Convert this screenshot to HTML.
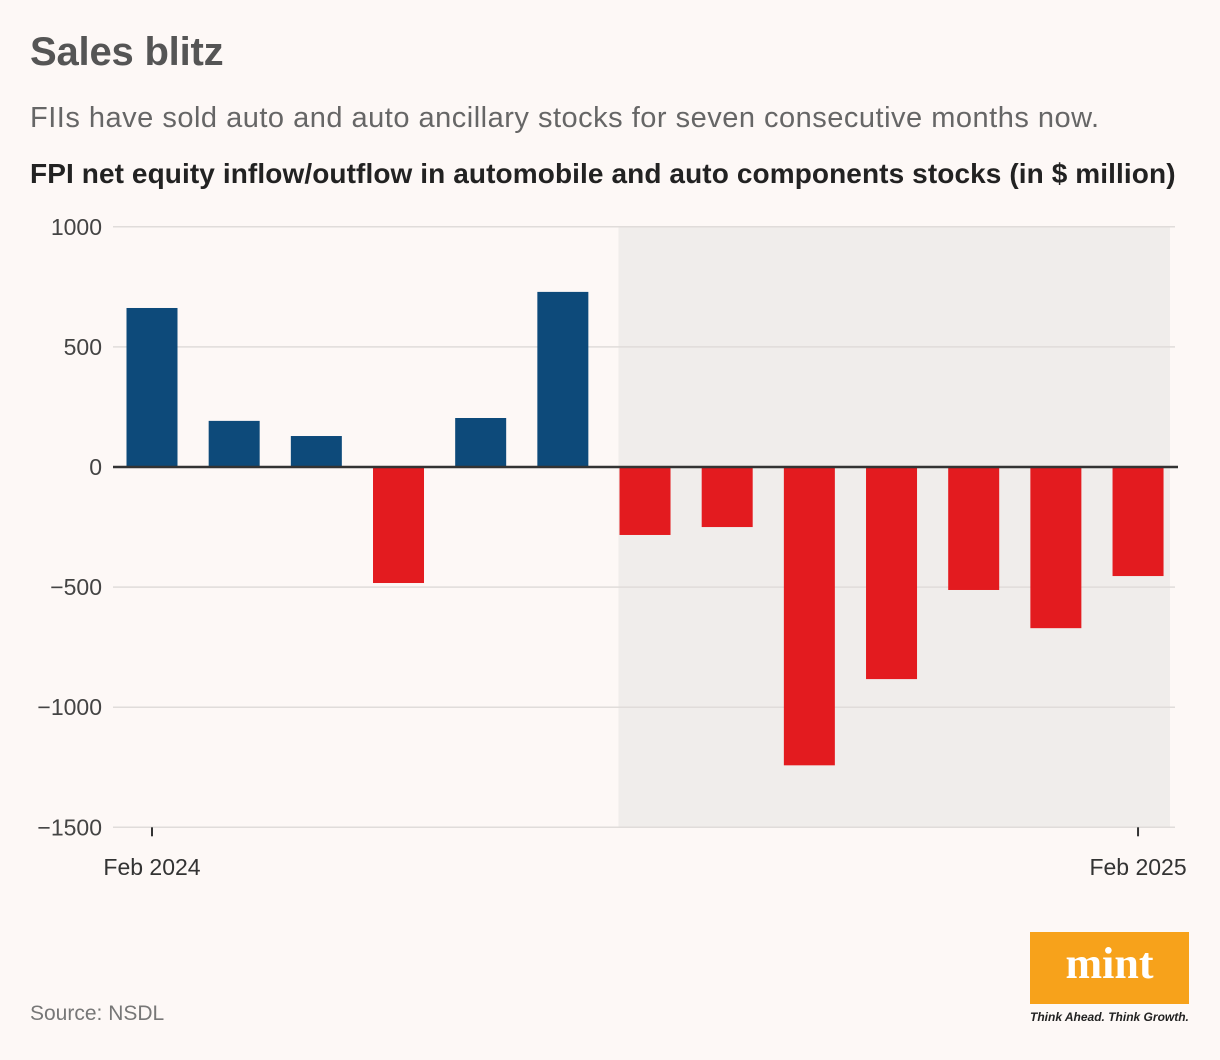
<!DOCTYPE html>
<html><head><meta charset="utf-8"><style>
body{margin:0;background:#fdf8f6;font-family:"Liberation Sans",sans-serif;}
#wrap{position:relative;width:1220px;height:1060px;overflow:hidden;}
.t{position:absolute;white-space:nowrap;}
</style></head><body>
<div id="wrap">
<div class="t" style="left:30px;top:30px;font-size:40px;font-weight:bold;color:#555;letter-spacing:-0.2px">Sales blitz</div>
<div class="t" style="left:30px;top:102px;font-size:29px;color:#666;letter-spacing:0.5px">FIIs have sold auto and auto ancillary stocks for seven consecutive months now.</div>
<div class="t" style="left:30px;top:158px;font-size:28px;font-weight:bold;color:#222;letter-spacing:0.1px">FPI net equity inflow/outflow in automobile and auto components stocks (in $ million)</div>
<svg id="chart" width="1220" height="900" style="position:absolute;left:0;top:0"></svg>
<div class="t" style="left:30px;top:1002px;font-size:21px;color:#777">Source: NSDL</div>
<div class="t" style="left:1030px;top:932px;width:159px;height:72px;background:#f7a21b;color:#fff;font-family:'Liberation Serif',serif;font-weight:bold;font-size:44px;text-align:center;line-height:64px">mint</div>
<div class="t" style="left:1030px;top:1010px;font-size:12px;font-style:italic;font-weight:bold;color:#222">Think Ahead. Think Growth.</div>
</div>
<script>
const categories=["Feb 2024","Mar 2024","Apr 2024","May 2024","Jun 2024","Jul 2024","Aug 2024","Sep 2024","Oct 2024","Nov 2024","Dec 2024","Jan 2025","Feb 2025"];
const values=[662,192,129,-483,204,729,-283,-250,-1242,-883,-512,-671,-454];
const yTicks=[1000,500,0,-500,-1000,-1500];
const yTickLabels=["1000","500","0","\u2212500","\u22121000","\u22121500"];
const xLabelIdx=[0,12];
const shadeFrom=6;
const NS="http://www.w3.org/2000/svg";
const svg=document.getElementById('chart');
const y=v=>467-v*0.2402;
const x=i=>152+i*82.17;
const bw=51;
function mk(t,a){const e=document.createElementNS(NS,t);for(const k in a)e.setAttribute(k,a[k]);svg.appendChild(e);return e;}
const sx=x(shadeFrom)-bw/2-1;
let sh=mk('rect',{x:sx,y:y(1000),width:1170-sx,height:y(-1500)-y(1000),fill:'#f0edeb'});


yTicks.forEach((t,i)=>{
 if(t!==0){const g=mk('line',{x1:113,x2:1175,y1:y(t),y2:y(t),stroke:'#e0dcda','stroke-width':1.5});
 
 }
 const l=mk('text',{x:102,y:y(t)+8,'text-anchor':'end','font-size':23,fill:'#444','font-family':'Liberation Sans,sans-serif'});
 l.textContent=yTickLabels[i];
 
 
});
values.forEach((v,i)=>{
 const r=mk('rect',{x:x(i)-bw/2,y:Math.min(y(v),y(0)),width:bw,height:Math.abs(y(v)-y(0)),fill:v>=0?'#0d4a7a':'#e31b1f'});
 
 
});
const z=mk('line',{x1:113,x2:1178,y1:y(0),y2:y(0),stroke:'#333','stroke-width':2.5});


xLabelIdx.forEach(i=>{
 const tk=mk('line',{x1:x(i),x2:x(i),y1:y(-1500),y2:y(-1500)+9,stroke:'#333','stroke-width':2});
 
 
 const l=mk('text',{x:x(i),y:875,'text-anchor':'middle','font-size':23,fill:'#333','font-family':'Liberation Sans,sans-serif'});
 l.textContent=categories[i];
 
 
});
</script>
</body></html>
